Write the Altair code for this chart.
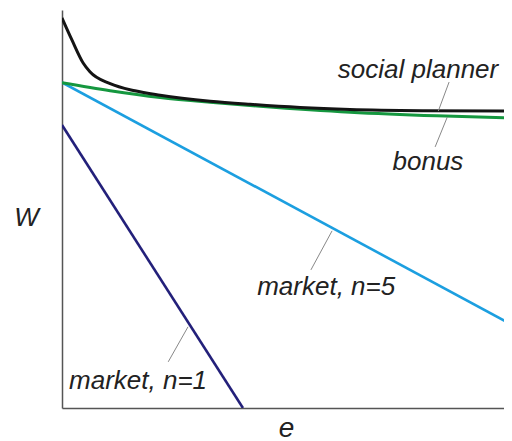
import altair as alt
import pandas as pd

# Curves (e and W on a 0..1 scale)
planner_e = [0.0, 0.022, 0.047, 0.062, 0.107, 0.162, 0.218, 0.329, 0.418, 0.529, 0.640, 0.800, 1.0]
planner_w = [0.980, 0.925, 0.867, 0.845, 0.815, 0.797, 0.786, 0.771, 0.763, 0.755, 0.750, 0.747, 0.746]

bonus_e = [0.0, 0.107, 0.218, 0.329, 0.440, 0.640, 0.833, 1.0]
bonus_w = [0.817, 0.797, 0.780, 0.768, 0.758, 0.743, 0.734, 0.729]

market5_e = [0.0, 1.0]
market5_w = [0.818, 0.209]

market1_e = [0.0, 0.402]
market1_w = [0.711, 0.0]

# Curve labels
label_text = ["social planner", "bonus", "market, n=5", "market, n=1"]
label_e = [0.791, 0.813, 0.587, 0.169]
label_w = [0.829, 0.598, 0.284, 0.048]

# Leader lines from curve to label
lead_e1 = [0.860, 0.856, 0.600, 0.280]
lead_w1 = [0.819, 0.731, 0.445, 0.204]
lead_e2 = [0.836, 0.829, 0.553, 0.236]
lead_w2 = [0.746, 0.656, 0.347, 0.116]

FONT = "Liberation Sans"

xs = alt.Scale(domain=[0, 0.982], nice=False, zero=False)
ys = alt.Scale(domain=[0, 1], nice=False, zero=False)

xax = alt.Axis(title="e", ticks=False, labels=False, grid=False, domainColor="#555555",
               domainWidth=1.5, titleFont=FONT, titleFontStyle="italic", titleFontWeight="normal",
               titleFontSize=28, titleColor="#222222", titleX=224, titleY=28,
               titleAlign="center", titleBaseline="alphabetic")
yax = alt.Axis(title="W", ticks=False, labels=False, grid=False, domainColor="#555555",
               domainWidth=1.5, titleFont=FONT, titleFontStyle="italic", titleFontWeight="normal",
               titleFontSize=26, titleColor="#222222", titleAngle=0, titleX=-36, titleY=215,
               titleAlign="center", titleBaseline="alphabetic")


def curve(es, ws, color, width, interp="linear"):
    df = pd.DataFrame({"e": es, "W": ws})
    return alt.Chart(df).mark_line(color=color, strokeWidth=width, interpolate=interp,
                                   clip=True).encode(
        x=alt.X("e:Q", scale=xs, axis=xax), y=alt.Y("W:Q", scale=ys, axis=yax))


m1 = curve(market1_e, market1_w, "#23207a", 2.6)
m5 = curve(market5_e, market5_w, "#1c9fe0", 2.6)
bo = curve(bonus_e, bonus_w, "#15973f", 3, "monotone")
sp = curve(planner_e, planner_w, "#141414", 3, "monotone")

leads = alt.Chart(pd.DataFrame({"e": lead_e1, "W": lead_w1, "e2": lead_e2, "w2": lead_w2})).mark_rule(
    color="#888888", strokeWidth=1).encode(
    x=alt.X("e:Q", scale=xs, axis=xax), y=alt.Y("W:Q", scale=ys, axis=yax),
    x2="e2:Q", y2="w2:Q")

labels = alt.Chart(pd.DataFrame({"e": label_e, "W": label_w, "t": label_text})).mark_text(
    font=FONT, fontStyle="italic", fontSize=26, color="#222222", align="center",
    baseline="alphabetic").encode(
    x=alt.X("e:Q", scale=xs, axis=xax), y=alt.Y("W:Q", scale=ys, axis=yax), text="t:N")

chart = alt.layer(m1, m5, bo, sp, leads, labels).properties(
    width=442, height=398,
    autosize=alt.AutoSizeParams(type="none"),
    padding={"left": 54, "top": 2, "right": 0, "bottom": 36},
).configure_view(stroke=None)

chart.save("out.html", embed_options={"renderer": "svg", "actions": False})
